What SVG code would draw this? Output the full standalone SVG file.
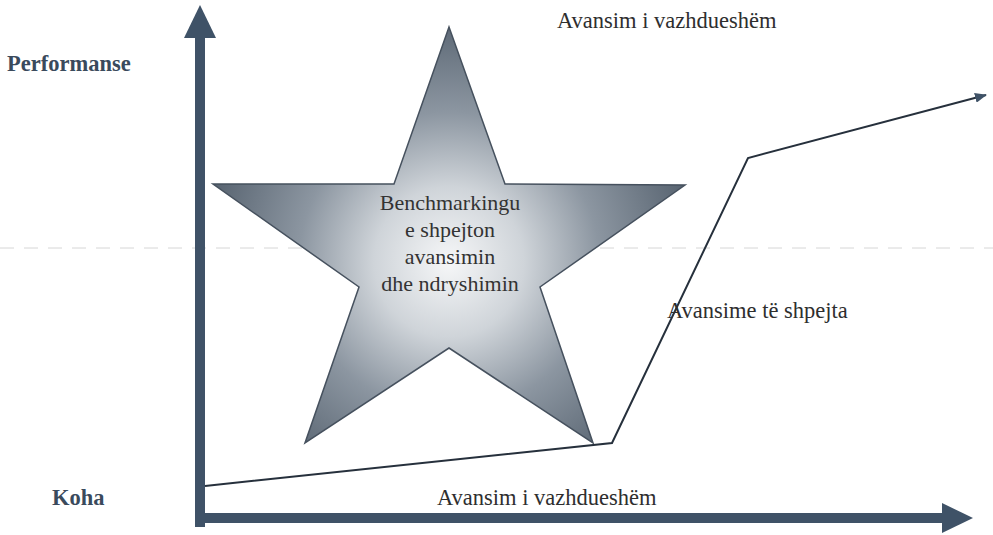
<svg xmlns="http://www.w3.org/2000/svg" width="993" height="535" viewBox="0 0 993 535">
<style>
.axis{fill:#3f5267}
text{font-family:'Liberation Serif','Times New Roman',Times,serif}
.lbl{font-size:22.5px;fill:#2e2e2e}
.bold{font-weight:bold;fill:#3a4a5c}
.star-t{font-size:22px;fill:#333;text-anchor:middle}
.conn{fill:none;stroke:#26303c;stroke-width:2}
</style>
<defs>
<radialGradient id="sg" cx="449" cy="262" r="250" gradientUnits="userSpaceOnUse">
<stop offset="0" stop-color="#f6f7f8"/>
<stop offset="0.3" stop-color="#cfd4d9"/>
<stop offset="0.6" stop-color="#8c96a1"/>
<stop offset="1" stop-color="#56626f"/>
</radialGradient>
<marker id="ah" markerWidth="12" markerHeight="10" refX="11" refY="5" orient="auto" markerUnits="userSpaceOnUse">
<path d="M0,0 L12,5 L0,10 Z" fill="#3f5267"/>
</marker>
</defs>
<rect width="993" height="535" fill="#fff"/>
<line x1="0" y1="248" x2="993" y2="248" stroke="#d6d6d6" stroke-width="1" stroke-dasharray="14,10"/>
<g id="axes">
<rect class="axis" x="195" y="36" width="10" height="491"/>
<polygon class="axis" points="184,38 200,5 216,38"/>
<rect class="axis" x="195" y="513" width="748" height="10"/>
<polygon class="axis" points="942,503 973,518 942,533"/>
</g>
<g id="star">
<polygon points="449,27 505,184 685,185 540,287 593,443 449,348 305,443 359,287 213,184 394,184" fill="url(#sg)" stroke="#46515e" stroke-width="1.5"/>
<text class="star-t" x="450" y="210" font-family="Liberation Serif, serif">Benchmarkingu</text>
<text class="star-t" x="450" y="237" font-family="Liberation Serif, serif">e shpejton</text>
<text class="star-t" x="450" y="264" font-family="Liberation Serif, serif">avansimin</text>
<text class="star-t" x="450" y="291" font-family="Liberation Serif, serif">dhe ndryshimin</text>
</g>
<g id="connectors">
<polyline class="conn" points="205,486 612,443 748,158 986,95" marker-end="url(#ah)"/>
</g>
<g id="labels">
<text class="lbl bold" x="7" y="71" font-family="Liberation Serif, serif">Performanse</text>
<text class="lbl bold" x="52" y="505" font-family="Liberation Serif, serif">Koha</text>
<text class="lbl" x="557" y="28" font-family="Liberation Serif, serif">Avansim i vazhdueshëm</text>
<text class="lbl" x="437" y="505" font-family="Liberation Serif, serif">Avansim i vazhdueshëm</text>
<text class="lbl" x="667" y="318" font-family="Liberation Serif, serif">Avansime të shpejta</text>
</g>
</svg>
